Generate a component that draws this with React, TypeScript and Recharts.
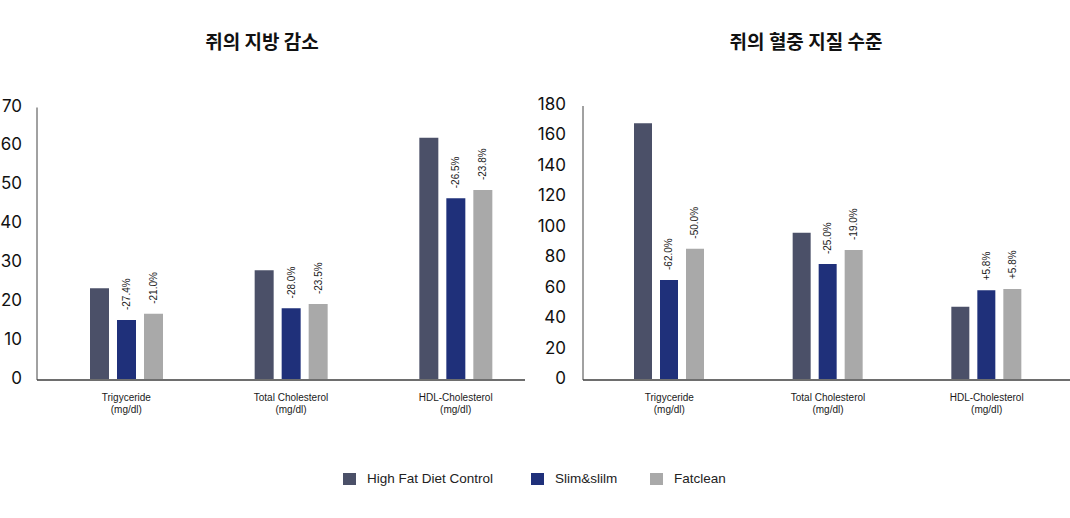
import { Bar, BarChart, LabelList, XAxis, YAxis } from 'recharts'

// 항목과 값
const categories = ['Trigyceride', 'Total Cholesterol', 'HDL-Cholesterol']
const unitLabel = '(mg/dl)'
const seriesNames = ['High Fat Diet Control', 'Slim&slilm', 'Fatclean']

const fatControl = [23.6, 28.2, 62.2]
const fatSlim = [15.4, 18.4, 46.7]
const fatClean = [17.0, 19.5, 48.8]
const fatSlimChange = ['-27.4%', '-28.0%', '-26.5%']
const fatCleanChange = ['-21.0%', '-23.5%', '-23.8%']
const fatTicks = [0, 10, 20, 30, 40, 50, 60, 70]

const lipidControl = [168.6, 96.8, 48.2]
const lipidSlim = [65.7, 76.2, 58.9]
const lipidClean = [86.3, 85.4, 59.8]
const lipidSlimChange = ['-62.0%', '-25.0%', '+5.8%']
const lipidCleanChange = ['-50.0%', '-19.0%', '+5.8%']
const lipidTicks = [0, 20, 40, 60, 80, 100, 120, 140, 160, 180]

const COLORS = ['#4b5068', '#1f307a', '#a9a9a9']
const AXIS = '#6e6e6e'
const LABEL_FONT = '"Liberation Sans", Arial, sans-serif'

function buildRows(control: number[], slim: number[], clean: number[], slimChg: string[], cleanChg: string[]) {
  return categories.map((name, i) => ({
    name,
    control: control[i],
    slim: slim[i],
    clean: clean[i],
    slimChange: slimChg[i],
    cleanChange: cleanChg[i],
  }))
}

const fatRows = buildRows(fatControl, fatSlim, fatClean, fatSlimChange, fatCleanChange)
const lipidRows = buildRows(lipidControl, lipidSlim, lipidClean, lipidSlimChange, lipidCleanChange)

// 두 줄짜리 x축 라벨
function CategoryTick({ x, y, payload }: any) {
  return (
    <g transform={`translate(${x},${y})`}>
      <text textAnchor="middle" fontSize={10} fill="#1a1a1a" fontFamily={LABEL_FONT}>
        <tspan x={0} dy={12.5}>{payload.value}</tspan>
        <tspan x={0} dy={12.5}>{unitLabel}</tspan>
      </text>
    </g>
  )
}

// 막대 위 세로 변화율 라벨
function ChangeLabel({ x, y, width, value }: any) {
  const cx = Number(x) + Number(width) / 2
  const ty = Number(y) - 10
  return (
    <text
      x={cx}
      y={ty}
      transform={`rotate(-90 ${cx} ${ty})`}
      textAnchor="start"
      dominantBaseline="central"
      fontSize={10}
      fill="#1a1a1a"
      fontFamily={LABEL_FONT}
    >
      {value}
    </text>
  )
}

interface PanelProps {
  rows: any[]
  ticks: number[]
  max: number
  yWidth: number
  top: number
  right: number
  barSize: number
  pad: { left: number; right: number }
  tickMargin: number
}

function Panel({ rows, ticks, max, yWidth, top, right, barSize, pad, tickMargin }: PanelProps) {
  return (
    <BarChart
      width={535}
      height={420}
      data={rows}
      margin={{ top, right, bottom: 0, left: 0 }}
      barSize={barSize}
      barGap={8}
    >
      <XAxis
        dataKey="name"
        height={40}
        padding={pad}
        axisLine={{ stroke: AXIS, strokeWidth: 2 }}
        tickLine={false}
        tick={<CategoryTick />}
        interval={0}
      />
      <YAxis
        width={yWidth}
        domain={[0, max]}
        ticks={ticks}
        interval={0}
        axisLine={{ stroke: '#444', strokeWidth: 1 }}
        tickLine={false}
        tickMargin={tickMargin}
        tick={{ fill: '#111', fontSize: 17, fontFamily: 'Inter, sans-serif', dy: -2 }}
      />
      <Bar dataKey="control" fill={COLORS[0]} isAnimationActive={false} />
      <Bar dataKey="slim" fill={COLORS[1]} isAnimationActive={false}>
        <LabelList dataKey="slimChange" content={<ChangeLabel />} />
      </Bar>
      <Bar dataKey="clean" fill={COLORS[2]} isAnimationActive={false}>
        <LabelList dataKey="cleanChange" content={<ChangeLabel />} />
      </Bar>
    </BarChart>
  )
}

const titleStyle: React.CSSProperties = {
  position: 'absolute',
  top: 27,
  lineHeight: '28px',
  fontFamily: '"Noto Sans CJK KR", sans-serif',
  fontWeight: 700,
  fontSize: 19,
  color: '#111',
  transform: 'translateX(-50%)',
  whiteSpace: 'nowrap',
}

const legendWidths = [188, 119, 110]

export default function App() {
  return (
    <div style={{ position: 'absolute', left: 0, top: 0, width: 1070, height: 518, background: '#fff' }}>
      <div style={{ ...titleStyle, left: 262 }}>쥐의 지방 감소</div>
      <div style={{ ...titleStyle, left: 806 }}>쥐의 혈중 지질 수준</div>

      <div style={{ position: 'absolute', left: 0, top: 0 }}>
        <Panel
          rows={fatRows}
          ticks={fatTicks}
          max={70}
          yWidth={37}
          top={107.5}
          right={10}
          barSize={19}
          pad={{ left: 7, right: -13 }}
          tickMargin={9}
        />
      </div>
      <div style={{ position: 'absolute', left: 535, top: 0 }}>
        <Panel
          rows={lipidRows}
          ticks={lipidTicks}
          max={180}
          yWidth={48}
          top={106}
          right={0}
          barSize={18}
          pad={{ left: 7, right: 4 }}
          tickMargin={11}
        />
      </div>

      <div
        style={{
          position: 'absolute',
          left: 343,
          top: 471,
          display: 'flex',
          alignItems: 'center',
          fontFamily: LABEL_FONT,
          fontSize: 13.5,
          color: '#222',
        }}
      >
        {seriesNames.map((n, i) => (
          <div key={n} style={{ display: 'flex', alignItems: 'center', width: legendWidths[i] }}>
            <span style={{ width: 13, height: 12, background: COLORS[i], display: 'inline-block', marginRight: 11 }} />
            <span>{n}</span>
          </div>
        ))}
      </div>
    </div>
  )
}
